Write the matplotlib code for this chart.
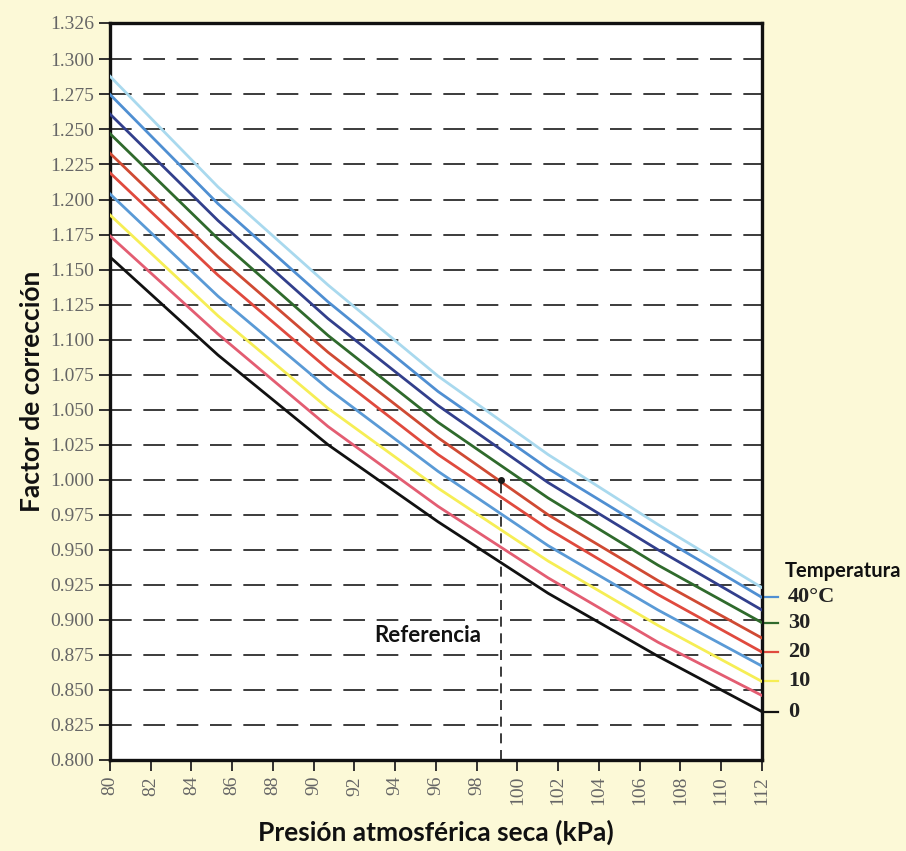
"""Factor de corrección vs presión atmosférica seca"""
import matplotlib
matplotlib.use('Agg')
import matplotlib.pyplot as plt
import numpy as np

pressure = [80, 85.3, 90.7, 96.1, 101.5, 106.9, 112]

# one curve per temperature (°C)
temps = [0, 5, 10, 15, 20, 25, 30, 35, 40, 45]
f_t0 = [1.159, 1.089, 1.025, 0.970, 0.919, 0.874, 0.8345]
f_t5 = [1.174, 1.104, 1.038, 0.981, 0.930, 0.884, 0.846]
f_t10 = [1.189, 1.117, 1.051, 0.994, 0.942, 0.896, 0.856]
f_t15 = [1.204, 1.131, 1.065, 1.006, 0.953, 0.907, 0.867]
f_t20 = [1.219, 1.146, 1.079, 1.018, 0.965, 0.918, 0.877]
f_t25 = [1.233, 1.159, 1.091, 1.030, 0.975, 0.928, 0.887]
f_t30 = [1.247, 1.172, 1.103, 1.041, 0.987, 0.939, 0.898]
f_t35 = [1.261, 1.185, 1.115, 1.053, 0.998, 0.950, 0.907]
f_t40 = [1.275, 1.197, 1.127, 1.063, 1.008, 0.960, 0.916]
f_t45 = [1.288, 1.209, 1.139, 1.074, 1.018, 0.968, 0.923]
curves = [f_t0, f_t5, f_t10, f_t15, f_t20, f_t25, f_t30, f_t35, f_t40, f_t45]

colors = ['#111111', '#e35d72', '#f6ee55', '#5a9ad6', '#e04a3e',
          '#cf4a33', '#2f6a2c', '#323f8c', '#4f8fd2', '#a9d9ee']

# labelled temperatures on the right
label_temps = [0, 10, 20, 30, 40]
label_texts = ['0', '10', '20', '30', '40°C']

ref_p = 99.2
ref_f = 1.000

y_ticks = list(np.arange(0.800, 1.3001, 0.025)) + [1.326]
x_ticks = list(range(80, 113, 2))

BG = '#fcf9d7'
SANS = 'Lato'
SERIF = 'Liberation Serif'

fig = plt.figure(figsize=(9.06, 8.51), dpi=100, facecolor=BG)
ax = fig.add_axes([0.1214, 0.107, 0.7196, 0.866])
ax.set_facecolor('white')

# dashed horizontal grid (0.825 ... 1.300)
for yv in y_ticks[1:-1]:
    ax.axhline(yv, color='#1a1a1a', lw=1.2, ls=(0, (13, 7)), zorder=1)

for vals, c in zip(curves, colors):
    ax.plot(pressure, vals, color=c, lw=2.0, zorder=3)

# reference point
ax.plot([ref_p, ref_p], [0.800, ref_f], color='#1a1a1a', lw=1.2,
        ls=(0, (6, 4)), zorder=4)
ax.plot(ref_p, ref_f, 'o', color='#1a1a1a', ms=4, zorder=5)
ax.text(ref_p - 1.0, 0.889, 'Referencia', fontsize=16, fontweight='bold',
        family=SANS, ha='right', va='center', color='#111111')

ax.set_xlim(80, 112)
ax.set_ylim(0.800, 1.326)
ax.set_yticks(y_ticks)
ax.set_yticklabels([f'{v:.3f}' for v in y_ticks])
ax.set_xticks(x_ticks)
ax.set_xticklabels([str(v) for v in x_ticks], rotation=90)

ax.tick_params(axis='both', direction='out', length=8, width=1.3,
               colors='#222222', labelcolor='#666666', labelsize=14)
for lbl in ax.get_xticklabels() + ax.get_yticklabels():
    lbl.set_family(SERIF)

for sp in ax.spines.values():
    sp.set_linewidth(2.4)
    sp.set_color('#111111')

ax.set_xlabel('Presión atmosférica seca (kPa)', fontsize=19,
              fontweight='bold', family=SANS, labelpad=10, color='#111111')
ax.set_ylabel('Factor de corrección', fontsize=19, fontweight='bold',
              family=SANS, labelpad=4, color='#111111')

# temperature labels at right end of curves
ax.text(1.035, 0.9345, 'Temperatura', transform=ax.get_yaxis_transform(),
        fontsize=14.5, fontweight='bold', family=SANS, ha='left',
        va='center', color='#111111')
for t, txt in zip(label_temps, label_texts):
    i = temps.index(t)
    yv = curves[i][-1]
    ax.plot([1.0, 1.025], [yv, yv], transform=ax.get_yaxis_transform(),
            color=colors[i], lw=1.6, clip_on=False)
    ax.text(1.04, yv, txt, transform=ax.get_yaxis_transform(), fontsize=16,
            fontweight='bold', family=SERIF, ha='left',
            va='center', color='#222222')

fig.savefig('out.png', dpi=100, facecolor=BG)
